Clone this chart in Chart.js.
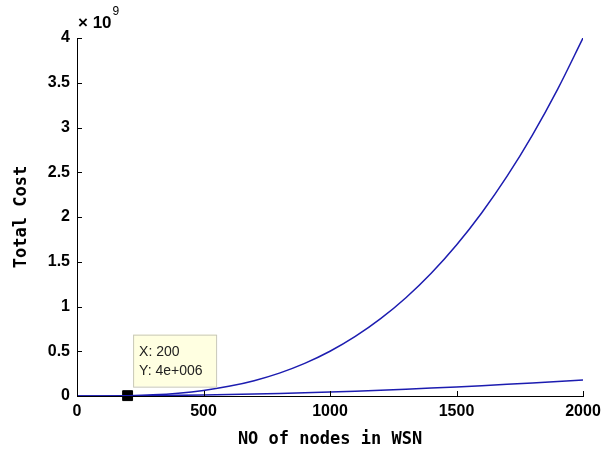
<!DOCTYPE html>
<html>
<head>
<meta charset="utf-8">
<script src="https://cdn.jsdelivr.net/npm/chart.js@4/dist/chart.umd.min.js"></script>
<style>
  html, body { margin: 0; padding: 0; background: #fff; }
  #wrap { width: 608px; height: 456px; position: relative; }
</style>
</head>
<body>
<div id="wrap"><canvas id="costChart"></canvas></div>
<script>
// Data (x = number of nodes)
const nodes = [0, 100, 200, 300, 400, 500, 600, 700, 800, 900, 1000,
               1100, 1200, 1300, 1400, 1500, 1600, 1700, 1800, 1900, 2000];
const upperCost = [0, 5e5, 4e6, 1.35e7, 3.2e7, 6.25e7, 1.08e8, 1.715e8, 2.56e8, 3.645e8, 5e8,
                   6.655e8, 8.64e8, 1.0985e9, 1.372e9, 1.6875e9, 2.048e9, 2.4565e9, 2.916e9, 3.4295e9, 4e9];
const lowerCost = [0, 4.5e5, 1.8e6, 4.05e6, 7.2e6, 1.125e7, 1.62e7, 2.205e7, 2.88e7, 3.645e7, 4.5e7,
                   5.445e7, 6.48e7, 7.605e7, 8.82e7, 1.0125e8, 1.152e8, 1.3005e8, 1.458e8, 1.6245e8, 1.8e8];
const xTicks = [0, 500, 1000, 1500, 2000];
const tipPoint = { x: 200, y: 4e6 };
const tipLines = ['X: 200', 'Y: 4e+006'];

const lineColor = '#1c1cb0';
const tickFont = { family: 'Liberation Sans', size: 16, weight: 'bold' };
const titleFont = { family: 'DejaVu Sans Mono', size: 17, weight: 'bold' };

function toXY(xs, ys) {
    return xs.map((x, i) => ({ x: x, y: ys[i] }));
}

// MATLAB-style inward tick marks, exponent label and the data tip
const matlabDecor = {
    id: 'matlabDecor',
    afterDraw(chart) {
        const ctx = chart.ctx;
        const xs = chart.scales.x, ys = chart.scales.y;
        const area = chart.chartArea;
        ctx.save();
        ctx.strokeStyle = '#000';
        ctx.lineWidth = 1;
        ctx.beginPath();
        xs.ticks.forEach(t => {
            const px = Math.round(xs.getPixelForValue(t.value)) + 0.5;
            ctx.moveTo(px, area.bottom);
            ctx.lineTo(px, area.bottom - 5);
        });
        ys.ticks.forEach(t => {
            const py = Math.round(ys.getPixelForValue(t.value)) + 0.5;
            ctx.moveTo(area.left, py);
            ctx.lineTo(area.left + 5, py);
        });
        ctx.stroke();

        // x 10^9 label
        ctx.fillStyle = '#000';
        ctx.textBaseline = 'middle';
        ctx.textAlign = 'left';
        ctx.font = 'bold 17px "Liberation Sans", sans-serif';
        ctx.fillText('\u00d7 10', area.left + 1, 23);
        const w = ctx.measureText('\u00d7 10').width;
        ctx.font = '12px "Liberation Sans", sans-serif';
        ctx.fillText('9', area.left + 2 + w, 12);

        // data tip box
        const pt = chart.getDatasetMeta(2).data[0];
        const bx = pt.x + 5.5, by = pt.y - 61, bw = 83, bh = 52;
        ctx.fillStyle = '#ffffe1';
        ctx.strokeStyle = '#c8c8b8';
        ctx.fillRect(bx, by, bw, bh);
        ctx.strokeRect(bx + 0.5, by + 0.5, bw, bh);
        ctx.fillStyle = '#222';
        ctx.font = '14px "Liberation Sans", sans-serif';
        ctx.fillText(tipLines[0], bx + 6, by + 17);
        ctx.fillText(tipLines[1], bx + 6, by + 36);
        ctx.restore();
    }
};

new Chart(document.getElementById('costChart'), {
    type: 'line',
    data: {
        datasets: [{
            data: toXY(nodes, upperCost),
            borderColor: lineColor,
            borderWidth: 1.5,
            pointRadius: 0,
            cubicInterpolationMode: 'monotone',
            fill: false
        }, {
            data: toXY(nodes, lowerCost),
            borderColor: lineColor,
            borderWidth: 1.5,
            pointRadius: 0,
            cubicInterpolationMode: 'monotone',
            fill: false
        }, {
            data: [tipPoint],
            showLine: false,
            pointStyle: 'rect',
            pointRadius: 7,
            backgroundColor: '#000',
            borderColor: '#000',
            clip: false
        }]
    },
    options: {
        responsive: true,
        maintainAspectRatio: false,
        animation: false,
        layout: { padding: { top: 38, right: 25, left: 0, bottom: 0 } },
        plugins: {
            legend: { display: false },
            tooltip: { enabled: false }
        },
        scales: {
            x: {
                type: 'linear',
                min: 0,
                max: 2000,
                afterBuildTicks: s => { s.ticks = xTicks.map(v => ({ value: v })); },
                afterFit: s => { s.height = 60; },
                grid: { display: false, drawTicks: false },
                border: { display: true, color: '#000', width: 1 },
                ticks: { color: '#000', font: tickFont, padding: 6, maxRotation: 0, callback: v => String(v) },
                title: { display: true, text: 'NO of nodes in WSN', color: '#000', font: titleFont, padding: { top: 0, bottom: 6 } }
            },
            y: {
                min: 0,
                max: 4e9,
                afterFit: s => { s.width = 77; },
                grid: { display: false, drawTicks: false },
                border: { display: true, color: '#000', width: 1 },
                ticks: {
                    stepSize: 5e8,
                    color: '#000',
                    font: tickFont,
                    padding: 7,
                    callback: v => String(v / 1e9)
                },
                title: { display: true, text: 'Total Cost', color: '#000', font: titleFont, padding: { top: 11, bottom: 0 } }
            }
        }
    },
    plugins: [matlabDecor]
});
</script>
</body>
</html>
